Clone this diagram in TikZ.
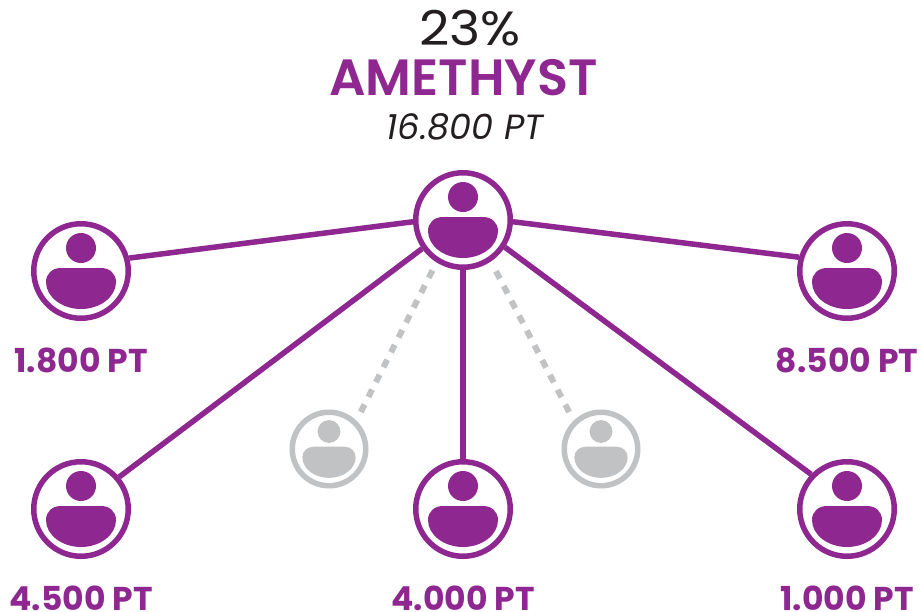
\documentclass[tikz,border=0pt]{standalone}
\usepackage{fontspec}
\setmainfont{Poppins}
\newfontfamily\widefont[FakeStretch=1.1]{Poppins}
\newfontfamily\rankfont{Poppins SemiBold}
\definecolor{amethyst}{HTML}{8E278F}
\definecolor{inactive}{HTML}{C1C2C4}
\definecolor{inktext}{HTML}{231F20}
\tikzset{
	usernode/.style={circle,draw=amethyst,fill=white,line width=5.5pt,minimum size=94.5pt,inner sep=0pt},
	idlenode/.style={circle,draw=inactive,fill=white,line width=5.5pt,minimum size=73.5pt,inner sep=0pt},
	pointlabel/.style={text=amethyst,font=\fontsize{33}{35}\selectfont\bfseries,inner sep=0pt},
	link/.style={draw=amethyst,line width=5.5pt},
	idlelink/.style={draw=inactive,line width=6pt,dash pattern=on 8.3pt off 8.4pt,shorten <=9.7pt,shorten >=3pt},
	pics/person/.style={code={
		\fill[#1] (0,-23) circle (15);
		\fill[#1] (-20,-3)--(20,-3) .. controls (29,-3) and (35,3) .. (35,11)
			.. controls (35,26) and (19,38) .. (0,38)
			.. controls (-19,38) and (-35,26) .. (-35,11)
			.. controls (-35,3) and (-29,-3) .. (-20,-3)--cycle;
	}}
}
\begin{document}
\begin{tikzpicture}[x=1pt,y=-1pt,line join=round]
	\useasboundingbox (0,0) rectangle (921,611);
	\node[usernode] (top) at (463,220) {};
	\path (463,220) pic {person=amethyst};
	\foreach \n/\x/\y/\t in {left/81/271/1.800,right/847/271/8.500,lowleft/81/509/4.500,lowmid/463/509/4.000,lowright/847/509/1.000}{
		\node[usernode] (\n) at (\x,\y) {};
		\path (\x,\y) pic {person=amethyst};
		\node[pointlabel] (\n label) at (\x,\y+89) {\t\ PT};
	}
	\foreach \n/\x in {idleleft/329,idleright/601}{
		\node[idlenode] (\n) at (\x,449) {};
		\path (\x,449) pic[scale=0.76] {person=inactive};
	}
	\draw[link] (top.182)--(left.15);
	\draw[link] (top.-2)--(right.164);
	\draw[link] (top.215)--(lowleft.40);
	\draw[link] (top.-90)--(lowmid.90);
	\draw[link] (top.-33)--(lowright.136);
	\draw[idlelink] (idleleft.46)--(top.-122);
	\draw[idlelink] (idleright.134)--(top.-56);
	\node[text=inktext,font=\fontsize{48}{50}\selectfont\widefont,inner sep=0pt] (share) at (470,28) {23\%};
	\node[text=amethyst,font=\fontsize{51}{53}\selectfont\rankfont,inner sep=0pt] (rank) at (463.5,78) {AMETHYST};
	\node[text=inktext,font=\fontsize{35}{37}\selectfont\itshape,inner sep=0pt] (total) at (465,126.5) {16.800 PT};
\end{tikzpicture}
\end{document}
